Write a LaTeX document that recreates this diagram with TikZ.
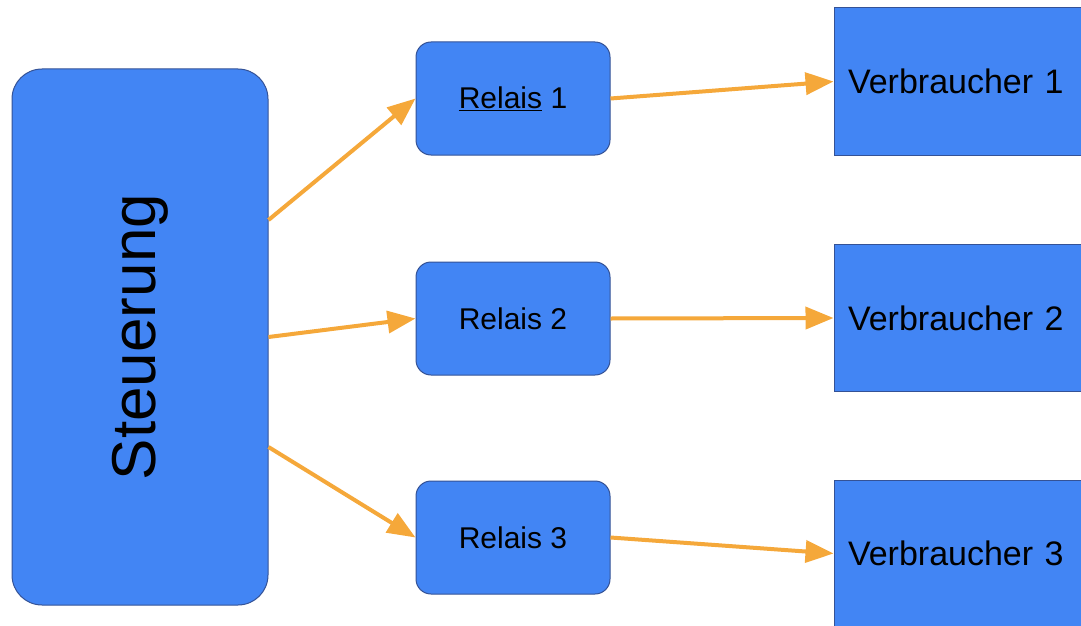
\documentclass[tikz,border=0pt]{standalone}
\usepackage{fontspec}
\setmainfont{Liberation Sans}
\usetikzlibrary{arrows.meta}
\definecolor{boxblue}{RGB}{66,133,244}
\definecolor{boxline}{RGB}{52,82,150}
\definecolor{wire}{RGB}{245,168,58}
\begin{document}
\begin{tikzpicture}[
		x=1pt, y=-1pt,
		block/.style={draw=boxline, line width=1pt, fill=boxblue, inner sep=0pt},
		steuer/.style={block, rounded corners=30pt, minimum width=256pt, minimum height=536pt, font=\fontsize{62}{74}\selectfont},
		relais/.style={block, rounded corners=15pt, minimum width=194pt, minimum height=113pt, font=\fontsize{30}{36}\selectfont},
		last/.style={block, minimum width=270pt, minimum height=147pt, text width=242pt, inner xsep=14pt, align=left, font=\fontsize{34}{40}\selectfont},
		pfeil/.style={draw=wire, line width=4pt, -{Triangle[length=28pt,width=22pt]}}
	]
	\useasboundingbox (0,0) rectangle (1081,626);
	\node[steuer] (steu) at (140,337) {\rotatebox{90}{Steuerung}};
	\node[relais] (r1) at (513,98.5) {\underline{Relais} 1};
	\node[relais] (r2) at (513,318.5) {Relais 2};
	\node[relais] (r3) at (513,537.5) {Relais 3};
	\node[last] (v1) at (969,81.5) {Verbraucher 1};
	\node[last] (v2) at (969,318) {Verbraucher 2};
	\node[last] (v3) at (969,553.5) {Verbraucher 3};
	\draw[pfeil] ([yshift=117pt]steu.east) -- (r1.west);
	\draw[pfeil] (steu.east) -- (r2.west);
	\draw[pfeil] ([yshift=-110pt]steu.east) -- (r3.west);
	\draw[pfeil] (r1.east) -- (v1.west);
	\draw[pfeil] (r2.east) -- (v2.west);
	\draw[pfeil] (r3.east) -- (v3.west);
\end{tikzpicture}
\end{document}
